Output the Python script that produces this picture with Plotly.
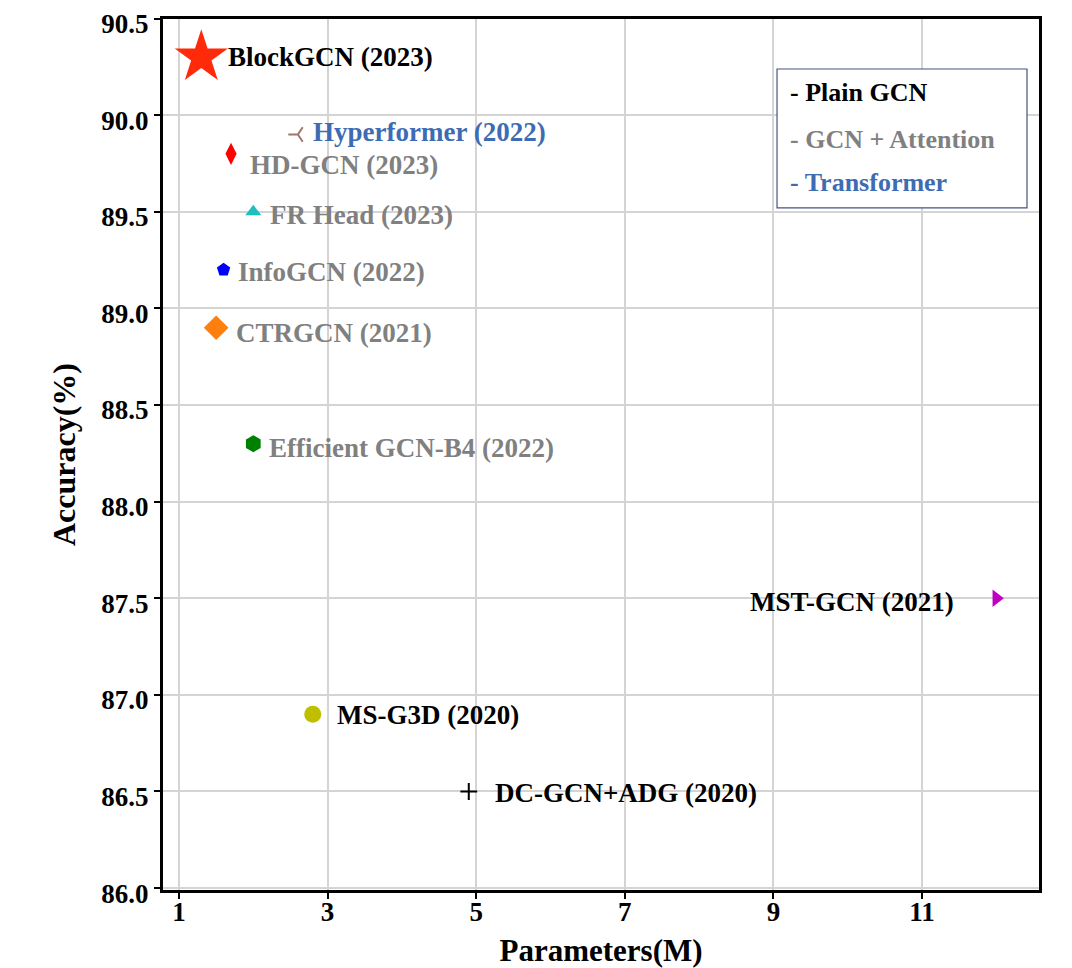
import plotly.graph_objects as go

# ---- data ----
models = ["BlockGCN (2023)", "Hyperformer (2022)", "HD-GCN (2023)", "FR Head (2023)",
          "InfoGCN (2022)", "CTRGCN (2021)", "Efficient GCN-B4 (2022)",
          "MST-GCN (2021)", "MS-G3D (2020)", "DC-GCN+ADG (2020)"]
params_m = [1.3, 2.6, 1.7, 2.0, 1.6, 1.5, 2.0, 12.0, 2.8, 4.9]
accuracy = [90.3, 89.9, 89.8, 89.5, 89.2, 88.9, 88.3, 87.5, 86.9, 86.5]
categories = ["Plain GCN", "Transformer", "GCN + Attention", "GCN + Attention",
              "GCN + Attention", "GCN + Attention", "GCN + Attention",
              "Plain GCN", "Plain GCN", "Plain GCN"]
x_ticks = [1, 3, 5, 7, 9, 11]
y_ticks = [86.0, 86.5, 87.0, 87.5, 88.0, 88.5, 89.0, 89.5, 90.0, 90.5]
legend_items = ["Plain GCN", "GCN + Attention", "Transformer"]

# ---- styles ----
cat_color = {"Plain GCN": "#000000", "GCN + Attention": "#808080", "Transformer": "#3d6cb3"}
symbols = ["star", "y-left", "diamond-tall", "triangle-up", "pentagon", "diamond",
           "hexagon", "triangle-right", "circle", "cross-thin"]
mcolors = ["#ff2a0a", "#a07468", "#ff0000", "#1fbfbf", "#0000ff", "#ff7f0e",
           "#008000", "#c000c0", "#bfbf00", "#000000"]
msizes = [40, 12, 16, 14, 14, 19, 17, 15, 17, 12]
# label offsets in pixels (dx, dy), anchor
lab_off = [(25, 0, "left"), (13, 3, "left"), (17, -11, "left"), (15, -3, "left"),
           (12, -2, "left"), (18, -5, "left"), (14, -4, "left"), (-40, -4, "right"),
           (22, -1, "left"), (24, -2, "left")]

FONT = "Liberation Serif, Times New Roman, serif"

fig = go.Figure()
for i, m in enumerate(models):
    line = dict(width=0)
    if symbols[i] in ("y-left", "cross-thin"):
        line = dict(width=2, color=mcolors[i])
    fig.add_trace(go.Scatter(
        x=[params_m[i]], y=[accuracy[i]], mode="markers", name=m,
        marker=dict(symbol=symbols[i], size=msizes[i], color=mcolors[i], line=line),
        showlegend=False, hoverinfo="text", text=[m]))
    dx, dy, anc = lab_off[i]
    fig.add_annotation(x=params_m[i], y=accuracy[i], text=m,
                       showarrow=False, xanchor=anc, yanchor="middle",
                       xshift=dx, yshift=dy,
                       font=dict(family=FONT, size=27, weight="bold",
                                 color=cat_color[categories[i]]))

# custom legend box
fig.add_shape(type="rect", xref="paper", yref="paper", x0=0.7005, x1=0.9852,
              y0=0.7824, y1=0.9416, line=dict(color="#44557e", width=1.2),
              fillcolor="white", layer="above")
leg_y = [0.9152, 0.8603, 0.8110]
for it, yy in zip(legend_items, leg_y):
    fig.add_annotation(xref="paper", yref="paper", x=0.7125, y=yy, text="- %s" % it,
                       showarrow=False, xanchor="left", yanchor="middle",
                       font=dict(family=FONT, size=26, weight="bold", color=cat_color[it]))

# plot frame
fig.add_shape(type="rect", xref="paper", yref="paper", x0=0, x1=1, y0=0, y1=1,
              line=dict(color="black", width=2), layer="above")

axis_common = dict(showline=True, linecolor="black", linewidth=2, mirror=True,
                   showgrid=True, gridcolor="#d4d4d4", gridwidth=1.5,
                   ticks="outside", ticklen=6, tickwidth=1.5, tickcolor="black",
                   zeroline=False, automargin=False, ticklabeloverflow="allow",
                   tickfont=dict(family=FONT, size=27, weight="bold", color="black"))

fig.update_xaxes(range=[0.771, 12.588], tickvals=x_ticks, ticklabelstandoff=-10,
                 title=dict(text="Parameters(M)", standoff=17,
                            font=dict(family=FONT, size=31, weight="bold", color="black")),
                 **axis_common)
fig.update_yaxes(range=[85.985, 90.503], tickvals=y_ticks, ticklabelshift=5,
                 ticktext=["%.1f" % v for v in y_ticks],
                 title=dict(text="Accuracy(%)", standoff=16,
                            font=dict(family=FONT, size=32, weight="bold", color="black")),
                 **axis_common)

# the page body adds an 8 px margin, so the figure is 8 px smaller each way
fig.update_layout(width=1064, height=960, plot_bgcolor="white", paper_bgcolor="white",
                  margin=dict(l=154, r=32, t=10, b=77),
                  font=dict(family=FONT))
fig.write_html("out.html")
